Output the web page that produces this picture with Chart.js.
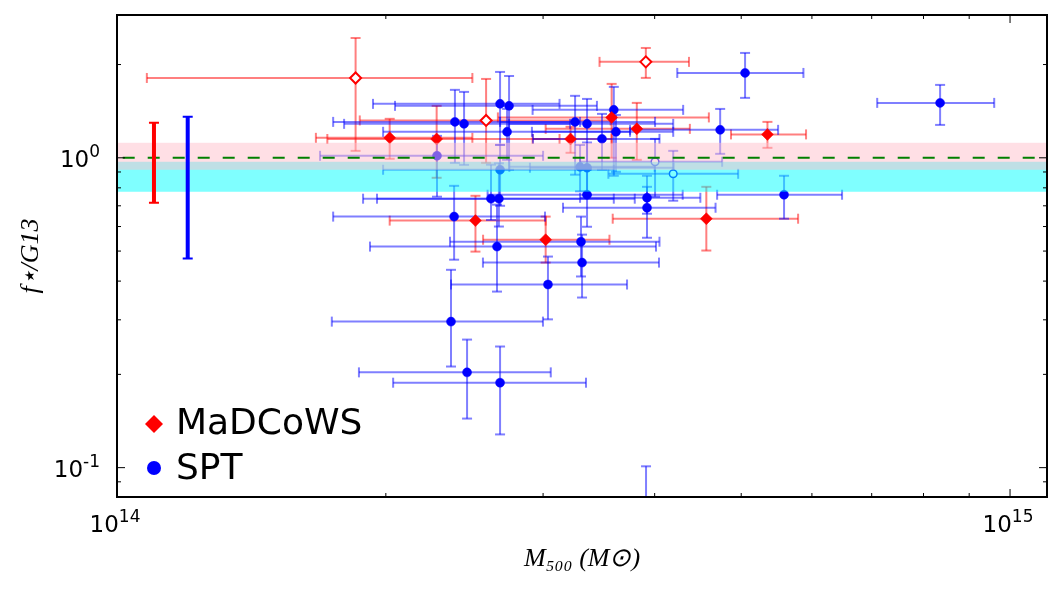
<!DOCTYPE html>
<html>
<head>
<meta charset="utf-8">
<script src="https://cdn.jsdelivr.net/npm/chart.js@4.4.0/dist/chart.umd.min.js"></script>
<style>
  html, body { margin: 0; padding: 0; background: #fff; }
</style>
</head>
<body>
<canvas id="chart" width="1063" height="589"></canvas>
<script>
// --- DATA (mass in units of 1e14 Msun, f = f_star / G13) ---
const UNIT = 1e14;

// MaDCoWS, filled diamonds
const madM   = [2.02, 2.28, 3.22, 3.58, 3.82, 5.35, 2.52, 3.02, 4.57];
const madF   = [1.16, 1.15, 1.15, 1.35, 1.24, 1.19, 0.627, 0.544, 0.636];
const madMlo = [1.67, 1.72, 2.92, 2.67, 3.02, 4.87, 2.02, 2.57, 3.59];
const madMhi = [2.50, 3.13, 3.58, 4.60, 4.38, 5.91, 3.02, 3.56, 5.79];
const madFlo = [0.993, 0.862, 1.038, 1.00, 0.985, 1.077, 0.498, 0.459, 0.502];
const madFhi = [1.336, 1.471, 1.259, 1.732, 1.504, 1.306, 0.754, 0.646, 0.806];

// MaDCoWS, open diamonds
const madOpenM   = [1.85, 2.59, 3.91];
const madOpenF   = [1.81, 1.32, 2.04];
const madOpenMlo = [1.08, 1.87, 3.47];
const madOpenMhi = [2.50, 3.57, 4.37];
const madOpenFlo = [1.053, 0.963, 1.811];
const madOpenFhi = [2.436, 1.797, 2.262];

// SPT, filled circles
const sptM   = [5.05, 8.35, 2.685, 2.748, 3.60, 2.39, 2.447, 2.734, 3.258, 3.36, 3.62, 3.492, 4.736, 2.282, 2.685, 3.30,
                3.36, 2.623, 2.677, 3.36, 3.922, 3.922, 5.584, 2.385, 2.664, 3.308, 3.317, 3.038, 2.366, 2.466, 2.685, 3.912];
const sptF   = [1.879, 1.504, 1.493, 1.471, 1.428, 1.306, 1.287, 1.213, 1.306, 1.287, 1.213, 1.151, 1.231, 1.015, 0.915, 0.935,
                0.929, 0.738, 0.738, 0.760, 0.743, 0.690, 0.760, 0.646, 0.517, 0.536, 0.459, 0.390, 0.296, 0.203, 0.188, 0.060];
const sptMlo = [4.24, 7.10, 1.935, 2.048, 2.92, 1.746, 1.796, 1.986, 2.685, 2.748, 2.915, 2.923, 3.754, 1.688, 1.986, 2.75,
                2.90, 1.886, 1.955, 2.60, 3.30, 3.158, 4.699, 1.746, 1.920, 2.36, 2.569, 2.366, 1.74, 1.866, 2.038, 3.30];
const sptMhi = [5.87, 9.60, 3.13, 3.447, 4.305, 3.30, 3.216, 3.754, 4.004, 4.196, 4.196, 4.05, 5.499, 3.00, 3.60, 4.00,
                4.20, 3.60, 3.80, 4.30, 4.50, 4.68, 6.485, 3.015, 4.014, 4.05, 4.045, 3.725, 2.999, 3.06, 3.351, 4.60];
const sptFlo = [1.561, 1.277, 1.101, 0.915, 0.875, 0.963, 0.949, 0.985, 0.882, 0.915, 0.901, 0.915, 1.030, 0.749, 0.70, 0.78,
                0.76, 0.63, 0.60, 0.599, 0.66, 0.552, 0.636, 0.469, 0.370, 0.414, 0.354, 0.301, 0.212, 0.144, 0.128, 0.030];
const sptFhi = [2.180, 1.719, 1.893, 1.837, 1.694, 1.657, 1.632, 1.438, 1.585, 1.549, 1.375, 1.386, 1.438, 1.177, 1.10, 1.10,
                1.12, 0.95, 0.96, 0.93, 0.875, 0.806, 0.875, 0.812, 0.706, 0.646, 0.565, 0.480, 0.435, 0.259, 0.246, 0.101];

// SPT, open circles
const sptOpenM   = [4.004, 4.196];
const sptOpenF   = [0.971, 0.888];
const sptOpenMlo = [3.30, 3.55];
const sptOpenMhi = [4.76, 4.961];
const sptOpenFlo = [0.749, 0.727];
const sptOpenFhi = [1.151, 1.053];

// typical error bars drawn at the left (MaDCoWS, SPT)
const typM  = [1.10, 1.20];
const typLo = [0.716, 0.473];
const typHi = [1.297, 1.356];

// shaded bands and reference line
const pinkBand = [0.915, 1.118];
const cyanBand = [0.777, 0.971];
const refLine = 1.0;

// axes
const xRange = [1.0, 11.0];
const yRange = [0.0804, 2.89];
const xTickValues = [1, 10];
const xTickLabels = [['10', '14'], ['10', '15']];
const xMinorTicks = [2, 3, 4, 5, 6, 7, 8, 9];
const yTickValues = [0.1, 1];
const yTickLabels = [['10', '-1'], ['10', '0']];
const yMinorTicks = [0.09, 0.2, 0.3, 0.4, 0.5, 0.6, 0.7, 0.8, 0.9, 2];

const legendLabels = ['MaDCoWS', 'SPT'];

// --- CHART ---
const pts = (m, f) => m.map((v, i) => ({ x: v * UNIT, y: f[i] }));

function errorBars(ctx, xs, ys, m, f, mlo, mhi, flo, fhi, color) {
    const cap = 5;
    ctx.strokeStyle = color;
    ctx.lineWidth = 2;
    const seg = (x0, y0, x1, y1) => { ctx.beginPath(); ctx.moveTo(x0, y0); ctx.lineTo(x1, y1); ctx.stroke(); };
    m.forEach((v, i) => {
        const x = xs.getPixelForValue(v * UNIT), y = ys.getPixelForValue(f[i]);
        const x0 = xs.getPixelForValue(mlo[i] * UNIT), x1 = xs.getPixelForValue(mhi[i] * UNIT);
        const y0 = ys.getPixelForValue(fhi[i]), y1 = ys.getPixelForValue(flo[i]);
        seg(x0, y, x1, y);
        seg(x, y0, x, y1);
        seg(x0, y - cap, x0, y + cap);
        seg(x1, y - cap, x1, y + cap);
        seg(x - cap, y0, x + cap, y0);
        seg(x - cap, y1, x + cap, y1);
    });
}

// "10" with a raised exponent
function powLabel(ctx, parts, x, y, align) {
    const baseFont = '23px "DejaVu Sans"', expFont = '17px "DejaVu Sans"';
    ctx.font = baseFont; const wb = ctx.measureText(parts[0]).width;
    ctx.font = expFont; const we = ctx.measureText(parts[1]).width;
    const x0 = align === 'right' ? x - wb - we : x - (wb + we) / 2;
    ctx.textAlign = 'left';
    ctx.textBaseline = 'alphabetic';
    ctx.font = baseFont; ctx.fillText(parts[0], x0, y);
    ctx.font = expFont; ctx.fillText(parts[1], x0 + wb, y - 10);
}

const overlay = {
    id: 'overlay',
    beforeDatasetsDraw(chart) {
        const { ctx, chartArea: a, scales: { x, y } } = chart;
        ctx.save();
        ctx.beginPath(); ctx.rect(a.left, a.top, a.right - a.left, a.bottom - a.top); ctx.clip();
        errorBars(ctx, x, y, madM, madF, madMlo, madMhi, madFlo, madFhi, 'rgba(255,0,0,0.5)');
        errorBars(ctx, x, y, madOpenM, madOpenF, madOpenMlo, madOpenMhi, madOpenFlo, madOpenFhi, 'rgba(255,0,0,0.5)');
        errorBars(ctx, x, y, sptM, sptF, sptMlo, sptMhi, sptFlo, sptFhi, 'rgba(0,0,255,0.5)');
        errorBars(ctx, x, y, sptOpenM, sptOpenF, sptOpenMlo, sptOpenMhi, sptOpenFlo, sptOpenFhi, 'rgba(0,0,255,0.5)');
        ctx.restore();
    },
    afterDatasetsDraw(chart) {
        const { ctx, chartArea: a, scales: { x, y } } = chart;
        const w = a.right - a.left;
        ctx.save();
        // bands
        let t = y.getPixelForValue(cyanBand[1]), b = y.getPixelForValue(cyanBand[0]);
        ctx.fillStyle = 'rgba(0,255,255,0.5)';
        ctx.fillRect(a.left, t, w, b - t);
        t = y.getPixelForValue(pinkBand[1]); b = y.getPixelForValue(pinkBand[0]);
        ctx.fillStyle = 'rgba(255,192,203,0.5)';
        ctx.fillRect(a.left, t, w, b - t);
        // dashed reference line
        const ly = y.getPixelForValue(refLine);
        ctx.strokeStyle = 'green'; ctx.lineWidth = 2;
        ctx.setLineDash([12, 13]); ctx.lineDashOffset = 19.3;
        ctx.beginPath(); ctx.moveTo(a.left, ly); ctx.lineTo(a.right, ly); ctx.stroke();
        ctx.setLineDash([]);
        // typical error bars
        ['red', 'blue'].forEach((c, i) => {
            const px = x.getPixelForValue(typM[i] * UNIT);
            const y0 = y.getPixelForValue(typHi[i]), y1 = y.getPixelForValue(typLo[i]);
            ctx.strokeStyle = c;
            ctx.lineWidth = 4;
            ctx.beginPath(); ctx.moveTo(px, y0); ctx.lineTo(px, y1); ctx.stroke();
            ctx.lineWidth = 2;
            ctx.beginPath();
            ctx.moveTo(px - 5, y0); ctx.lineTo(px + 5, y0);
            ctx.moveTo(px - 5, y1); ctx.lineTo(px + 5, y1);
            ctx.stroke();
        });
        ctx.restore();
    },
    afterDraw(chart) {
        const { ctx, chartArea: a, scales: { x, y } } = chart;
        ctx.save();
        ctx.strokeStyle = '#000';
        ctx.lineWidth = 1;
        const tick = (x0, y0, x1, y1) => { ctx.beginPath(); ctx.moveTo(x0, y0); ctx.lineTo(x1, y1); ctx.stroke(); };
        xTickValues.forEach(v => { const p = x.getPixelForValue(v * UNIT); tick(p, a.bottom, p, a.bottom - 8); tick(p, a.top, p, a.top + 8); });
        xMinorTicks.forEach(v => { const p = x.getPixelForValue(v * UNIT); tick(p, a.bottom, p, a.bottom - 4); tick(p, a.top, p, a.top + 4); });
        yTickValues.forEach(v => { const p = y.getPixelForValue(v); tick(a.left, p, a.left + 8, p); tick(a.right, p, a.right - 8, p); });
        yMinorTicks.forEach(v => { const p = y.getPixelForValue(v); tick(a.left, p, a.left + 4, p); tick(a.right, p, a.right - 4, p); });
        // frame
        ctx.lineWidth = 2;
        ctx.strokeRect(a.left, a.top, a.right - a.left, a.bottom - a.top);
        // tick labels
        ctx.fillStyle = '#000';
        xTickValues.forEach((v, i) => powLabel(ctx, xTickLabels[i], x.getPixelForValue(v * UNIT) - 2, a.bottom + 35, 'center'));
        yTickValues.forEach((v, i) => powLabel(ctx, yTickLabels[i], a.left - 17, y.getPixelForValue(v) + 9, 'right'));
        // legend
        ctx.fillStyle = 'red';
        ctx.beginPath();
        ctx.moveTo(154, 415); ctx.lineTo(163, 424); ctx.lineTo(154, 433); ctx.lineTo(145, 424); ctx.closePath();
        ctx.fill();
        ctx.fillStyle = 'blue';
        ctx.beginPath(); ctx.arc(154, 468, 7, 0, Math.PI * 2); ctx.fill();
        ctx.fillStyle = '#000';
        ctx.font = '36px "DejaVu Sans"';
        ctx.textBaseline = 'alphabetic';
        ctx.fillText(legendLabels[0], 176, 434);
        ctx.fillText(legendLabels[1], 176, 479);
        ctx.restore();
    }
};

const titleFont = { family: '"Liberation Serif"', size: 26, style: 'italic' };

new Chart(document.getElementById('chart'), {
    type: 'scatter',
    data: {
        datasets: [
            { label: legendLabels[0], data: pts(madM, madF), pointStyle: 'rectRot', pointRadius: 6,
              backgroundColor: 'red', borderColor: 'red', borderWidth: 0.5 },
            { label: legendLabels[0] + ' (open)', data: pts(madOpenM, madOpenF), pointStyle: 'rectRot', pointRadius: 5.5,
              backgroundColor: '#fff', borderColor: 'red', borderWidth: 2 },
            { label: legendLabels[1], data: pts(sptM, sptF), pointStyle: 'circle', pointRadius: 4.5,
              backgroundColor: 'blue', borderColor: 'blue', borderWidth: 0.5 },
            { label: legendLabels[1] + ' (open)', data: pts(sptOpenM, sptOpenF), pointStyle: 'circle', pointRadius: 3.8,
              backgroundColor: '#fff', borderColor: 'blue', borderWidth: 1.5 }
        ]
    },
    options: {
        responsive: false,
        animation: false,
        devicePixelRatio: 1,
        events: [],
        layout: { padding: { left: 0, right: 16, top: 15, bottom: 0 } },
        plugins: { legend: { display: false }, tooltip: { enabled: false } },
        scales: {
            x: {
                type: 'logarithmic', min: xRange[0] * UNIT, max: xRange[1] * UNIT,
                grid: { display: false, drawTicks: false }, border: { display: false },
                afterBuildTicks: s => { s.ticks = xTickValues.map(v => ({ value: v * UNIT })); },
                afterFit: s => { s.height = 92; s.paddingLeft = 0; s.paddingRight = 0; },
                ticks: { display: false },
                title: { display: true, text: 'M₅₀₀ (M⊙)', color: '#000', font: titleFont, padding: { top: 0, bottom: 14 } }
            },
            y: {
                type: 'logarithmic', min: yRange[0], max: yRange[1],
                grid: { display: false, drawTicks: false }, border: { display: false },
                afterBuildTicks: s => { s.ticks = yTickValues.map(v => ({ value: v })); },
                afterFit: s => { s.width = 117; s.paddingTop = 0; s.paddingBottom = 0; },
                ticks: { display: false },
                title: { display: true, text: 'f⋆/G13', color: '#000', font: titleFont, padding: { top: 16, bottom: 0 } }
            }
        }
    },
    plugins: [overlay]
});
</script>
</body>
</html>
